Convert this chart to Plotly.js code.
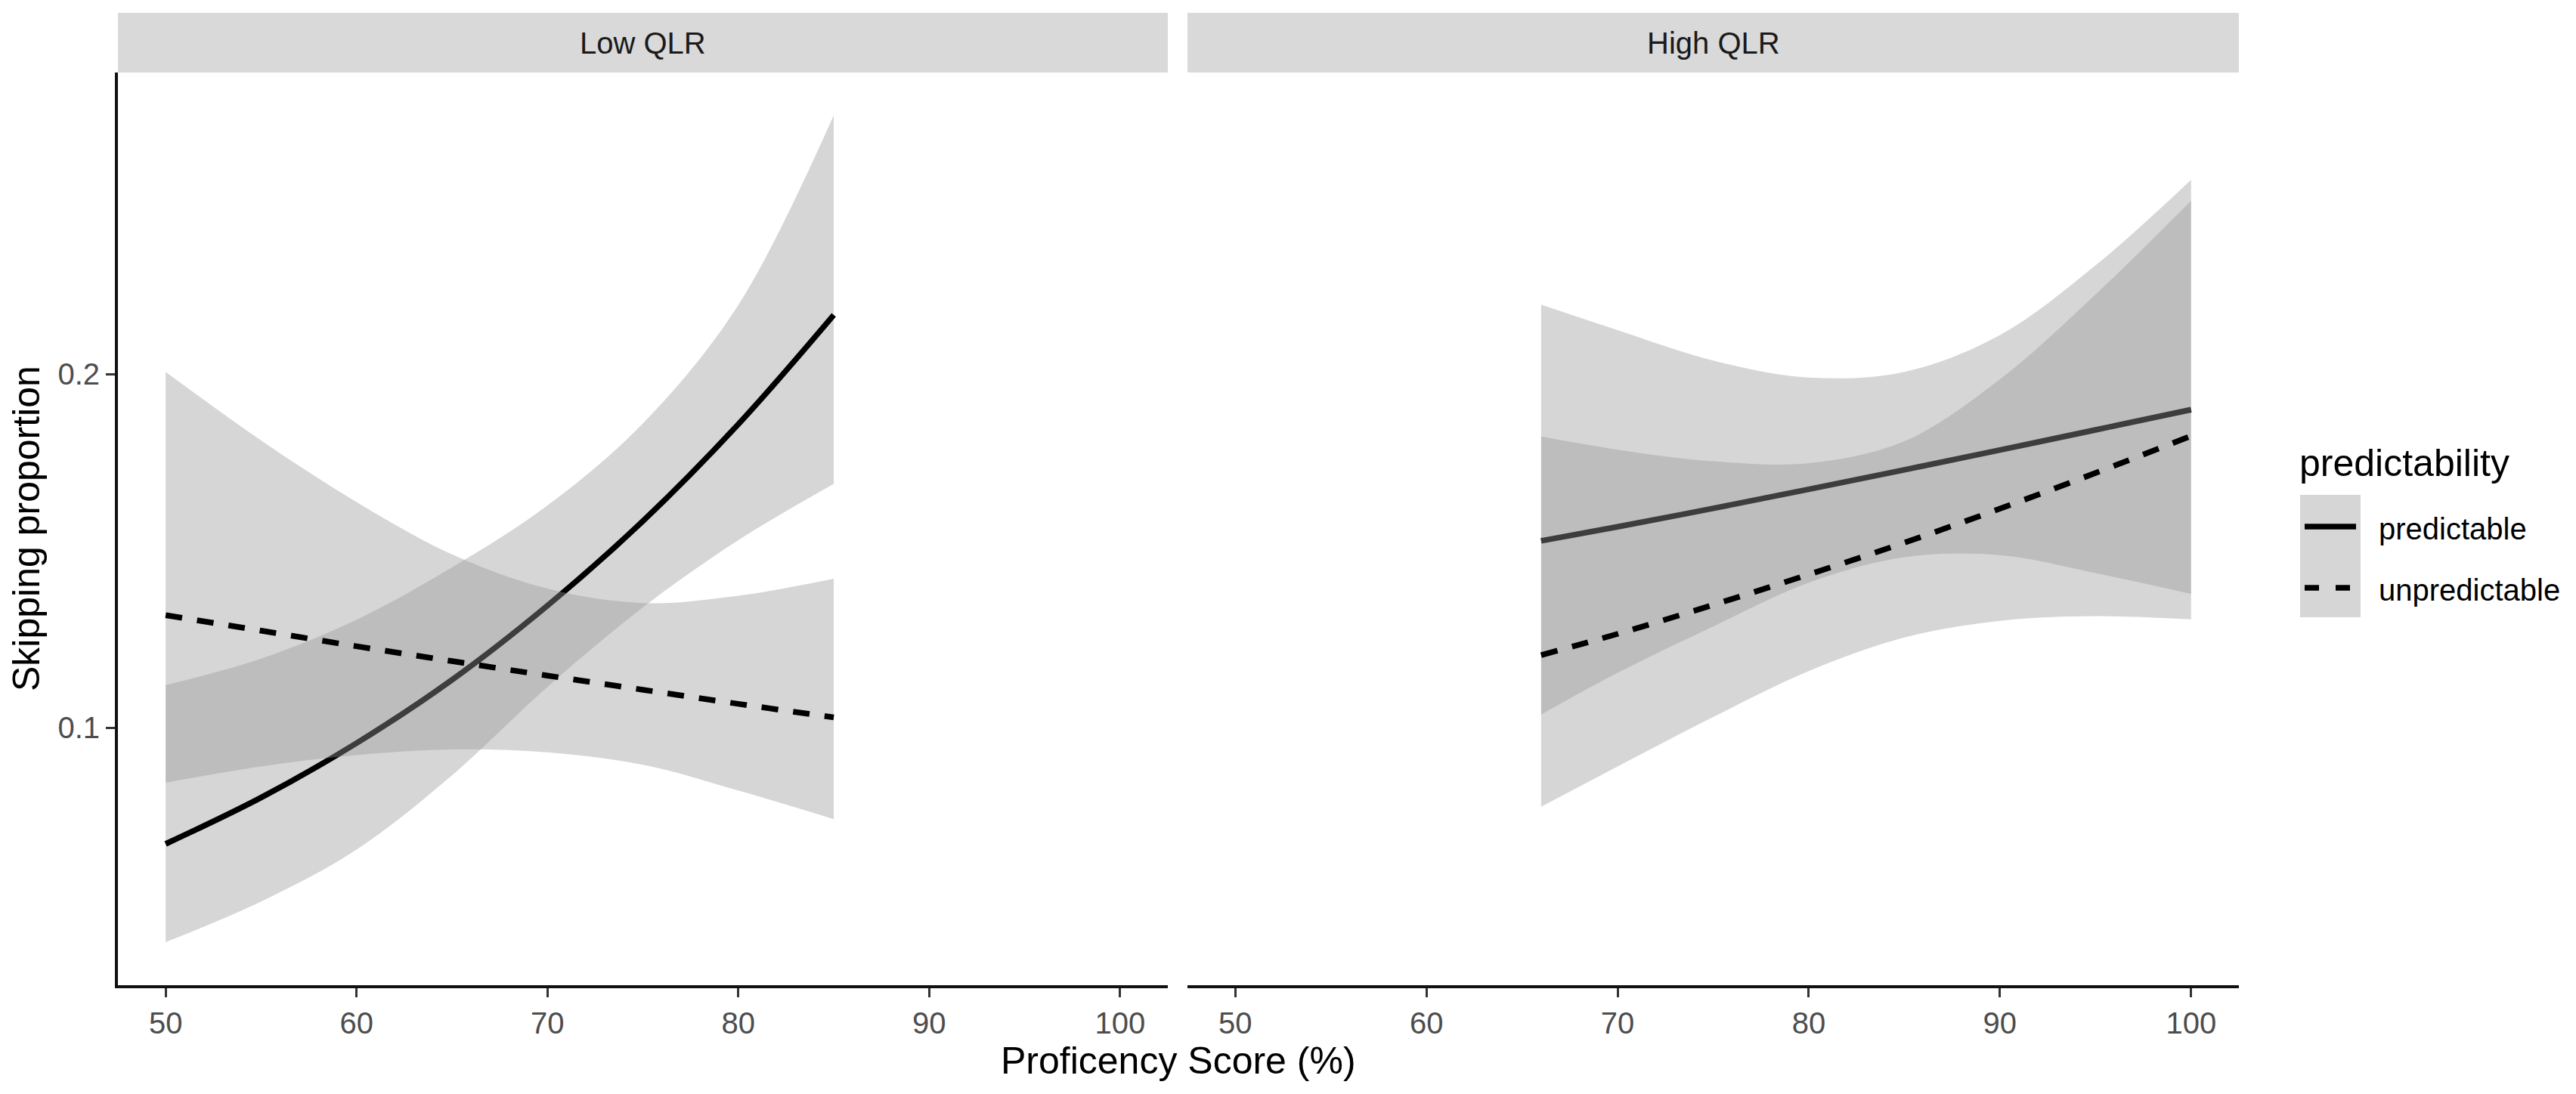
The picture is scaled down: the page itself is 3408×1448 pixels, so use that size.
<!DOCTYPE html>
<html>
<head>
<meta charset="utf-8">
<script src="https://cdn.plot.ly/plotly-3.0.1.min.js"></script>
<style>html,body{margin:0;padding:0;background:#fff;}#chart{width:3408px;height:1448px;}</style>
</head>
<body>
<div id="chart"></div>
<script>
// ---- data ----
const panels = ["Low QLR", "High QLR"];
const groups = ["predictable", "unpredictable"];
const xTicks = [50, 60, 70, 80, 90, 100];
const yTicks = [0.1, 0.2];
const yTickText = ["0.1", "0.2"];

// Low QLR panel
const xLow = [50, 55, 60, 65, 70, 75, 80, 85];
const lowPredFit = [0.0671, 0.0802, 0.0956, 0.1135, 0.1345, 0.1584, 0.1858, 0.2167];
const lowPredLo  = [0.0393, 0.0508, 0.0655, 0.0865, 0.1115, 0.1340, 0.1530, 0.1689];
const lowPredHi  = [0.1120, 0.1195, 0.1305, 0.1453, 0.1628, 0.1860, 0.2195, 0.2732];
const lowUnpFit  = [0.1318, 0.1274, 0.1230, 0.1188, 0.1147, 0.1107, 0.1067, 0.1029];
const lowUnpLo   = [0.0844, 0.0890, 0.0922, 0.0938, 0.0930, 0.0895, 0.0822, 0.0741];
const lowUnpHi   = [0.2006, 0.1812, 0.1638, 0.1490, 0.1393, 0.1352, 0.1373, 0.1421];

// High QLR panel
const xHigh = [66, 70, 75, 80, 85, 90, 95, 100];
const highPredFit = [0.1528, 0.1568, 0.1620, 0.1674, 0.1729, 0.1785, 0.1842, 0.1899];
const highPredLo  = [0.1037, 0.1155, 0.1286, 0.1410, 0.1482, 0.1488, 0.1437, 0.1378];
const highPredHi  = [0.2196, 0.2124, 0.2038, 0.1990, 0.2006, 0.2110, 0.2307, 0.2549];
const highUnpFit  = [0.1205, 0.1265, 0.1347, 0.1433, 0.1523, 0.1619, 0.1720, 0.1825];
const highUnpLo   = [0.0776, 0.0890, 0.1030, 0.1160, 0.1255, 0.1302, 0.1315, 0.1306];
const highUnpHi   = [0.1823, 0.1786, 0.1753, 0.1748, 0.1810, 0.1985, 0.2225, 0.2490];

// ---- styling ----
const W = 3408, H = 1448;
const FONT = "Liberation Sans, Arial, Helvetica, sans-serif";
const ribbonFill = "rgba(153,153,153,0.4)";
const lineW = 7.5;
const dashPat = "22px,20px";
const px = v => v / W;
const py = v => 1 - v / H;

const xDomL = [px(156), px(1545)];
const xDomR = [px(1571), px(2962)];
const yDom = [py(1304), py(96)];
const yRange = [0.02714, 0.28526];

function band(x, lo, hi, xa, ya) {
  return [
    {x: x, y: lo, xaxis: xa, yaxis: ya, type: "scatter", mode: "lines",
     line: {width: 0, shape: "spline", color: "rgba(0,0,0,0)"}, hoverinfo: "skip", showlegend: false},
    {x: x, y: hi, xaxis: xa, yaxis: ya, type: "scatter", mode: "lines", fill: "tonexty",
     fillcolor: ribbonFill, line: {width: 0, shape: "spline", color: "rgba(0,0,0,0)"},
     hoverinfo: "skip", showlegend: false}
  ];
}
function fitLine(x, y, xa, ya, dashed, name) {
  return {x: x, y: y, xaxis: xa, yaxis: ya, type: "scatter", mode: "lines", name: name,
    line: {width: lineW, color: "#000", shape: "spline", dash: dashed ? dashPat : "solid"},
    showlegend: false};
}

const traces = [].concat(
  band(xLow, lowPredLo, lowPredHi, "x", "y"),
  [fitLine(xLow, lowPredFit, "x", "y", false, groups[0])],
  band(xLow, lowUnpLo, lowUnpHi, "x", "y"),
  [fitLine(xLow, lowUnpFit, "x", "y", true, groups[1])],
  band(xHigh, highPredLo, highPredHi, "x2", "y2"),
  [fitLine(xHigh, highPredFit, "x2", "y2", false, groups[0])],
  band(xHigh, highUnpLo, highUnpHi, "x2", "y2"),
  [fitLine(xHigh, highUnpFit, "x2", "y2", true, groups[1])]
);

const xAxisBase = {
  range: [47.5, 102.5], tickvals: xTicks, ticktext: xTicks.map(String),
  ticks: "outside", ticklen: 12, tickwidth: 3, tickcolor: "#333333",
  showline: true, linecolor: "#111111", linewidth: 4,
  showgrid: false, zeroline: false,
  tickfont: {family: FONT, size: 40, color: "#4d4d4d"}
};

const annotations = [
  {text: panels[0], x: (xDomL[0] + xDomL[1]) / 2, y: py(57), xref: "paper", yref: "paper",
   showarrow: false, xanchor: "center", yanchor: "middle", font: {family: FONT, size: 40, color: "#1a1a1a"}},
  {text: panels[1], x: (xDomR[0] + xDomR[1]) / 2, y: py(57), xref: "paper", yref: "paper",
   showarrow: false, xanchor: "center", yanchor: "middle", font: {family: FONT, size: 40, color: "#1a1a1a"}},
  {text: "Proficency Score (%)", x: (xDomL[0] + xDomR[1]) / 2, y: py(1404), xref: "paper", yref: "paper",
   showarrow: false, xanchor: "center", yanchor: "middle", font: {family: FONT, size: 50, color: "#000"}},
  {text: "Skipping proportion", x: px(35), y: py(700), xref: "paper", yref: "paper", textangle: -90,
   showarrow: false, xanchor: "center", yanchor: "middle", font: {family: FONT, size: 50, color: "#000"}},
  {text: "predictability", x: px(3040), y: py(613), xref: "paper", yref: "paper",
   showarrow: false, xanchor: "left", yanchor: "middle", font: {family: FONT, size: 50, color: "#000"}},
  {text: groups[0], x: px(3145), y: py(700), xref: "paper", yref: "paper",
   showarrow: false, xanchor: "left", yanchor: "middle", font: {family: FONT, size: 40, color: "#000"}},
  {text: groups[1], x: px(3145), y: py(781), xref: "paper", yref: "paper",
   showarrow: false, xanchor: "left", yanchor: "middle", font: {family: FONT, size: 40, color: "#000"}}
];

const shapes = [
  {type: "rect", xref: "paper", yref: "paper", x0: xDomL[0], x1: xDomL[1], y0: py(96), y1: py(17),
   fillcolor: "#d9d9d9", line: {width: 0}, layer: "below"},
  {type: "rect", xref: "paper", yref: "paper", x0: xDomR[0], x1: xDomR[1], y0: py(96), y1: py(17),
   fillcolor: "#d9d9d9", line: {width: 0}, layer: "below"},
  // legend key
  {type: "rect", xref: "paper", yref: "paper", x0: px(3043), x1: px(3123), y0: py(817), y1: py(655),
   fillcolor: ribbonFill, line: {width: 0}},
  {type: "line", xref: "paper", yref: "paper", x0: px(3049), x1: px(3117), y0: py(697), y1: py(697),
   line: {color: "#000", width: lineW}},
  {type: "line", xref: "paper", yref: "paper", x0: px(3049), x1: px(3117), y0: py(778), y1: py(778),
   line: {color: "#000", width: lineW, dash: "19px,22px"}}
];

const layout = {
  width: W, height: H,
  margin: {l: 0, r: 0, t: 0, b: 0},
  paper_bgcolor: "#ffffff", plot_bgcolor: "#ffffff",
  showlegend: false,
  font: {family: FONT},
  xaxis: Object.assign({}, xAxisBase, {domain: xDomL, anchor: "y"}),
  xaxis2: Object.assign({}, xAxisBase, {domain: xDomR, anchor: "y2"}),
  yaxis: {domain: yDom, range: yRange, anchor: "x", tickvals: yTicks, ticktext: yTickText,
    ticks: "outside", ticklen: 12, tickwidth: 3, tickcolor: "#333333",
    showline: true, linecolor: "#111111", linewidth: 4, showgrid: false, zeroline: false,
    tickfont: {family: FONT, size: 40, color: "#4d4d4d"}},
  yaxis2: {domain: yDom, range: yRange, anchor: "x2", matches: "y", showticklabels: false,
    ticks: "", showline: false, showgrid: false, zeroline: false},
  annotations: annotations,
  shapes: shapes
};

Plotly.newPlot("chart", traces, layout, {staticPlot: true, displayModeBar: false});
</script>
</body>
</html>
